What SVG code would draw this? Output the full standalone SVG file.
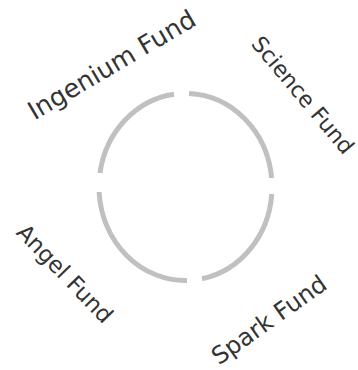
<svg xmlns="http://www.w3.org/2000/svg" width="358" height="370" viewBox="0 0 358 370">
<style>
.arc{fill:none;stroke:#c0c0c0;stroke-width:5;stroke-linecap:butt}
.lbl{font-family:"DejaVu Sans",Verdana,sans-serif;fill:#333;text-anchor:middle}
</style>
<rect width="358" height="370" fill="#fff"/>
<g id="connectors">
<path class="arc" d="M100,173 A86.5,93.5 0 0 1 174,94.33"/>
<path class="arc" d="M189,93.58 A86.5,93.5 0 0 1 271.6,178"/>
<path class="arc" d="M271.76,194 A86.5,93.5 0 0 1 202,278.78"/>
<path class="arc" d="M187,280.49 A86.5,93.5 0 0 1 99.12,192"/>
</g>
<g id="ingenium"><text class="lbl" font-size="25.5" transform="translate(116.1,72.4) rotate(-30.5)">Ingenium Fund</text></g>
<g id="science"><text class="lbl" font-size="22" transform="translate(297,100) rotate(50)">Science Fund</text></g>
<g id="angel"><text class="lbl" font-size="22.7" transform="translate(59.3,279) rotate(46)">Angel Fund</text></g>
<g id="spark"><text class="lbl" font-size="24" transform="translate(273.8,326.6) rotate(-35.4)">Spark Fund</text></g>
</svg>
